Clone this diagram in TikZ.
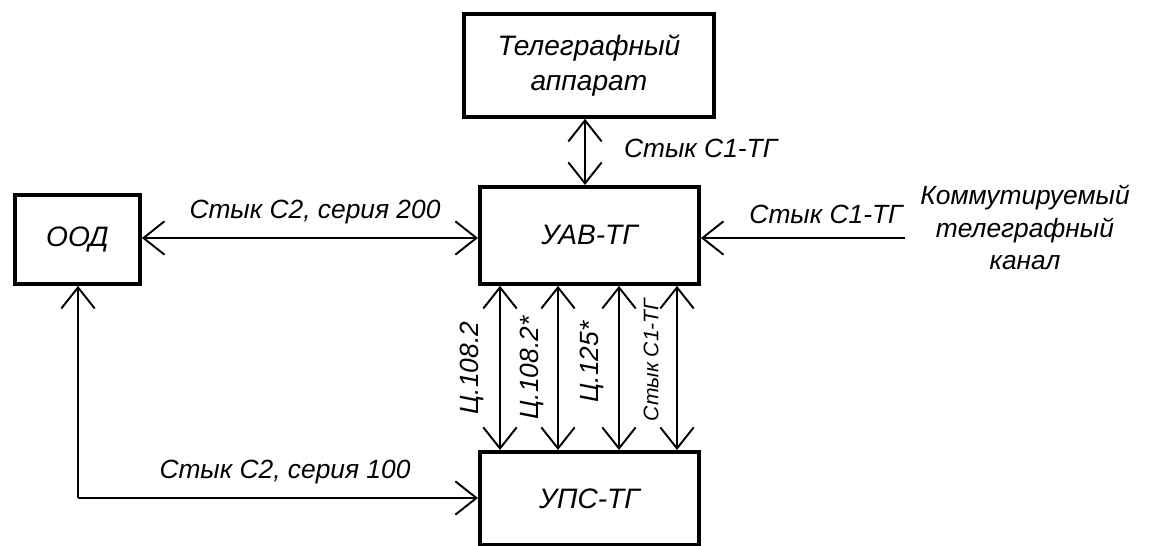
\documentclass[tikz,border=0pt]{standalone}
\usepackage{fontspec}
\setmainfont{Liberation Sans}
\usetikzlibrary{arrows.meta}
\tikzset{
  blk/.style={draw, line width=2.2pt, inner sep=0pt},
  lbl/.style={font=\itshape\fontsize{15}{18}\selectfont, inner sep=1pt},
  conn/.style={line width=1.3pt, {Straight Barb[length=12pt,width=19pt,line width=1.1pt]}-{Straight Barb[length=12pt,width=19pt,line width=1.1pt]}},
  conn1/.style={line width=1.3pt, -{Straight Barb[length=12pt,width=19pt,line width=1.1pt]}},
}
\begin{document}
\begin{tikzpicture}[x=0.02cm,y=-0.02cm]
\useasboundingbox (0,0) rectangle (1150,546);
% boxes
\node[blk, minimum width=250*0.02cm, minimum height=103*0.02cm, anchor=north west, align=center, font=\itshape\fontsize{16}{20}\selectfont] (ta) at (462,12) {Телеграфный\\аппарат};
\node[blk, minimum width=219*0.02cm, minimum height=97*0.02cm, anchor=north west, font=\itshape\fontsize{16}{19}\selectfont] (uav) at (478,185) {УАВ-ТГ};
\node[blk, minimum width=125*0.02cm, minimum height=89*0.02cm, anchor=north west, font=\itshape\fontsize{16}{19}\selectfont] (ood) at (13,193) {ООД};
\node[blk, minimum width=219*0.02cm, minimum height=93*0.02cm, anchor=north west, font=\itshape\fontsize{16}{19}\selectfont] (ups) at (478,450) {УПС-ТГ};
% end points
\coordinate (xt) at (585,0);
\coordinate (hy) at (0,238);
\coordinate (src) at (905,238);
\coordinate (corner) at (78,498);
\coordinate (v1) at (500,0);
\coordinate (v2) at (558,0);
\coordinate (v3) at (619,0);
\coordinate (v4) at (677,0);
% connectors
\draw[conn] (ta.south -| xt) -- (uav.north -| xt);
\node[lbl, anchor=west] (l1) at (622,148) {Стык С1-ТГ};
\draw[conn] (ood.east |- hy) -- (uav.west |- hy);
\node[lbl, anchor=south] (l2) at (315,226) {Стык С2, серия 200};
\draw[conn1] (src) -- (uav.east |- src);
\node[lbl, anchor=south] (l3) at (826,226) {Стык С1-ТГ};
\node[lbl, align=center, anchor=north, font=\itshape\fontsize{15}{18.5}\selectfont] (kan) at (1025,183) {Коммутируемый\\телеграфный\\канал};
\draw[conn1] (corner) -- (ups.west |- corner);
\draw[conn1] (corner) -- (ood.south -| corner);
\node[lbl, anchor=south] (l4) at (285,486) {Стык С2, серия 100};
\draw[conn] (uav.south -| v1) -- (ups.north -| v1);
\draw[conn] (uav.south -| v2) -- (ups.north -| v2);
\draw[conn] (uav.south -| v3) -- (ups.north -| v3);
\draw[conn] (uav.south -| v4) -- (ups.north -| v4);
\node[lbl, rotate=90] (r1) at (472,368) {Ц.108.2};
\node[lbl, rotate=90] (r2) at (532,368) {Ц.108.2*};
\node[lbl, rotate=90] (r3) at (592,362) {Ц.125*};
\node[lbl, rotate=90, font=\itshape\fontsize{12}{14}\selectfont] (r4) at (651,360) {Стык С1-ТГ};
\end{tikzpicture}
\end{document}
